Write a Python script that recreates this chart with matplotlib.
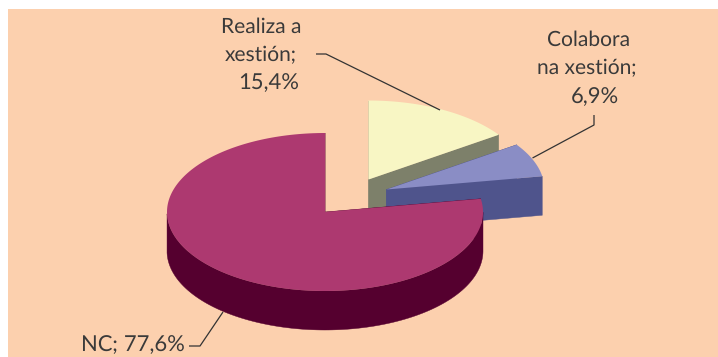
import numpy as np
import matplotlib
matplotlib.use('Agg')
import matplotlib.pyplot as plt
from matplotlib.patches import Polygon, Rectangle

# share of each group, in percent, clockwise from 12 o'clock
categories = [['Realiza a', 'xestión;'], ['Colabora', 'na xestión;'], ['NC;']]
values = [15.4, 6.9, 77.6]
value_labels = ['15,4%', '6,9%', '77,6%']

# drawn back to front
top_colors = ['#F8F6C4', '#8A8DC5', '#AD3970']
side_colors = ['#7D806A', '#4F548C', '#55002F']
centers = [(368.5, 179.5), (386.5, 189.5), (325, 212)]

rx = 158
ry = 79
depth = 39
bg = '#FCD0AE'

plt.rcParams['font.family'] = ['Lato', 'DejaVu Sans']
plt.rcParams['text.hinting'] = 'no_hinting'
plt.rcParams['text.hinting_factor'] = 1

fig = plt.figure(figsize=(7.18, 3.57), dpi=100, facecolor='white')
ax = fig.add_axes([0, 0, 1, 1])
ax.set_xlim(0, 718)
ax.set_ylim(357, 0)
ax.axis('off')
ax.add_patch(Rectangle((8, 9), 710, 348, fc=bg, ec='none', zorder=0))

# slice angles from the values
total = sum(values)
angle = 90.0
z = 1
for v, top, side, (cx, cy) in zip(values, top_colors, side_colors, centers):
    a1 = angle
    a2 = angle - v / total * 360
    angle = a2
    t = np.radians(np.linspace(a1, a2, 200))
    ex = cx + rx * np.cos(t)
    ey = cy - ry * np.sin(t)

    # cut faces first
    for i in [0, -1]:
        ax.add_patch(Polygon([(cx, cy), (ex[i], ey[i]), (ex[i], ey[i] + depth), (cx, cy + depth)],
                             closed=True, fc=side, ec=side, lw=0.3, zorder=z))
    # outer wall, only the part facing the viewer
    front = np.sin(t) <= 0
    if front.any():
        wx = ex[front]
        wy = ey[front]
        pts = list(zip(wx, wy)) + list(zip(wx[::-1], wy[::-1] + depth))
        ax.add_patch(Polygon(pts, closed=True, fc=side, ec=side, lw=0.3, zorder=z))
    pts = [(cx, cy)] + list(zip(ex, ey))
    ax.add_patch(Polygon(pts, closed=True, fc=top, ec='none', zorder=z + 1))
    z += 2

# leader lines
line_kw = dict(color='#333333', lw=0.9, zorder=10, solid_capstyle='butt')
ax.plot([316, 326, 440], [54, 54, 110], **line_kw)
ax.plot([594, 594, 532.5], [115, 125, 158], **line_kw)
ax.plot([189, 200, 223], [346, 346, 312], **line_kw)

# labels, the word lines and the number are placed apart like the original
txt_kw = dict(color='#3A3A3A', zorder=11, ha='center', va='baseline')
word = 14.8
num = 15.8
ax.text(261, 33, categories[0][0], fontsize=word, **txt_kw)
ax.text(261, 61.5, categories[0][1], fontsize=word, **txt_kw)
ax.text(268.5, 89.5, value_labels[0], fontsize=num, **txt_kw)
ax.text(589, 46, categories[1][0], fontsize=word, **txt_kw)
ax.text(587, 74.5, categories[1][1], fontsize=word, **txt_kw)
ax.text(595, 103, value_labels[1], fontsize=num, **txt_kw)
ax.text(132.5, 351.5, categories[2][0] + ' ' + value_labels[2], fontsize=15.5, **txt_kw)

fig.savefig('out.png', dpi=100)
